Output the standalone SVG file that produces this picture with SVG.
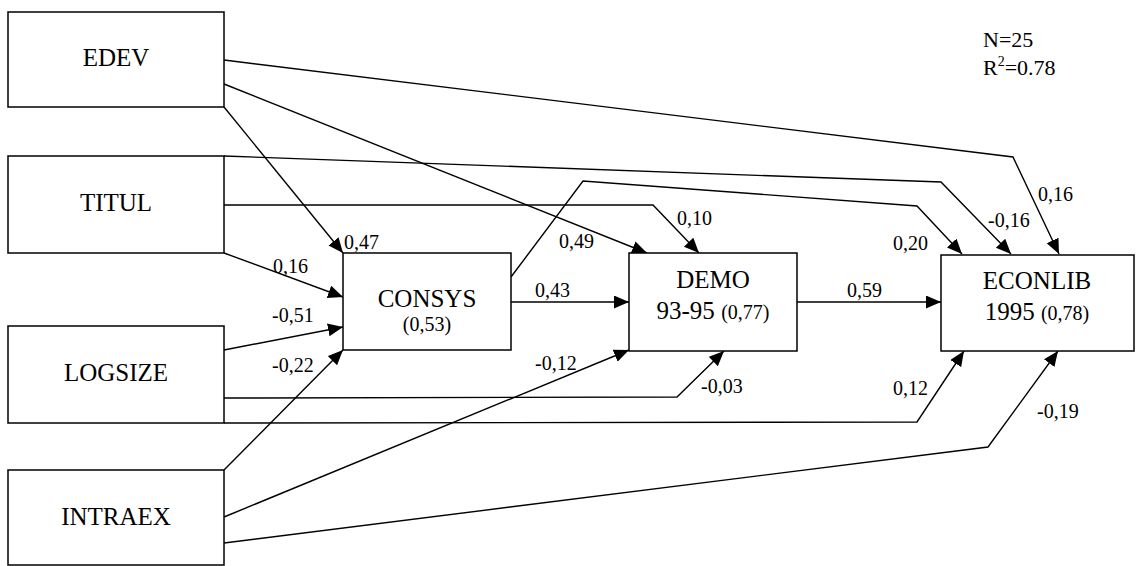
<svg xmlns="http://www.w3.org/2000/svg" width="1139" height="566" viewBox="0 0 1139 566">
  <style>
    .box { fill: #ffffff; stroke: #000000; stroke-width: 1.5; }
    .edge { fill: none; stroke: #000000; stroke-width: 1.4; marker-end: url(#arrow); }
    text { fill: #000000; }
    .name { font-size: 25px; text-anchor: middle; }
    .sub { font-size: 20px; }
    .coef { font-size: 20px; }
    .stat { font-size: 22px; }
  </style>
  <defs>
    <marker id="arrow" markerUnits="userSpaceOnUse" markerWidth="16" markerHeight="14" refX="15" refY="6.5" orient="auto">
      <path d="M0,0 L15,6.5 L0,13 Z" fill="#000000"/>
    </marker>
  </defs>

  <rect width="1139" height="566" fill="#ffffff"/>

  <g font-family="Liberation Serif, Tinos, Times New Roman, Times, DejaVu Serif, Noto Serif, serif">
  <!-- path connectors -->
  <g id="connectors">
    <!-- EDEV -->
    <polyline class="edge" points="224,60 1013,157 1059,254"/>
    <line class="edge" x1="224" y1="84" x2="647" y2="253"/>
    <line class="edge" x1="224" y1="107" x2="343" y2="253"/>
    <!-- TITUL -->
    <polyline class="edge" points="224,156 941,182 1011,254"/>
    <polyline class="edge" points="224,205 653,205 699,253"/>
    <line class="edge" x1="224" y1="253" x2="343" y2="297"/>
    <!-- LOGSIZE -->
    <line class="edge" x1="224" y1="350" x2="343" y2="327"/>
    <polyline class="edge" points="224,398 677,397 724,351"/>
    <polyline class="edge" points="224,423 917,422 964,351"/>
    <!-- INTRAEX -->
    <line class="edge" x1="224" y1="470" x2="343" y2="350"/>
    <line class="edge" x1="224" y1="517" x2="629" y2="350"/>
    <polyline class="edge" points="224,543 988,447 1058,351"/>
    <!-- CONSYS -->
    <line class="edge" x1="511" y1="302" x2="629" y2="302"/>
    <polyline class="edge" points="511,277 583,181 917,206 962,254"/>
    <!-- DEMO -->
    <line class="edge" x1="797" y1="302" x2="941" y2="302"/>

    <!-- coefficients -->
    <text class="coef" x="344" y="249">0,47</text>
    <text class="coef" x="273" y="273">0,16</text>
    <text class="coef" x="272" y="322">-0,51</text>
    <text class="coef" x="272" y="372">-0,22</text>
    <text class="coef" x="559" y="248">0,49</text>
    <text class="coef" x="677" y="225">0,10</text>
    <text class="coef" x="535" y="297">0,43</text>
    <text class="coef" x="535" y="370">-0,12</text>
    <text class="coef" x="701" y="393">-0,03</text>
    <text class="coef" x="847" y="297">0,59</text>
    <text class="coef" x="893" y="250">0,20</text>
    <text class="coef" x="988" y="227">-0,16</text>
    <text class="coef" x="1038" y="201">0,16</text>
    <text class="coef" x="893" y="395">0,12</text>
    <text class="coef" x="1037" y="418">-0,19</text>
  </g>

  <!-- exogenous variables -->
  <g id="edev">
    <rect class="box" x="8" y="12" width="216" height="95"/>
    <text class="name" x="116" y="66">EDEV</text>
  </g>
  <g id="titul">
    <rect class="box" x="8" y="156" width="216" height="97"/>
    <text class="name" x="116" y="211">TITUL</text>
  </g>
  <g id="logsize">
    <rect class="box" x="8" y="326" width="216" height="97"/>
    <text class="name" x="116" y="381">LOGSIZE</text>
  </g>
  <g id="intraex">
    <rect class="box" x="8" y="470" width="216" height="95"/>
    <text class="name" x="116" y="525">INTRAEX</text>
  </g>

  <!-- endogenous variables -->
  <g id="consys">
    <rect class="box" x="343" y="253" width="168" height="97"/>
    <text class="name" x="427" y="307">CONSYS</text>
    <text class="sub" x="427" y="331" text-anchor="middle">(0,53)</text>
  </g>
  <g id="demo">
    <rect class="box" x="629" y="253" width="168" height="98"/>
    <text class="name" x="713" y="288">DEMO</text>
    <text class="name" x="713" y="319">93-95 <tspan class="sub">(0,77)</tspan></text>
  </g>
  <g id="econlib">
    <rect class="box" x="941" y="255" width="193" height="96"/>
    <text class="name" x="1037" y="289">ECONLIB</text>
    <text class="name" x="1037" y="320">1995 <tspan class="sub">(0,78)</tspan></text>
  </g>

  <!-- model statistics -->
  <g id="stats">
    <text class="stat" x="983" y="47">N=25</text>
    <text class="stat" x="983" y="75">R<tspan font-size="14" dy="-9">2</tspan><tspan dy="9">=0.78</tspan></text>
  </g>
  </g>
</svg>
